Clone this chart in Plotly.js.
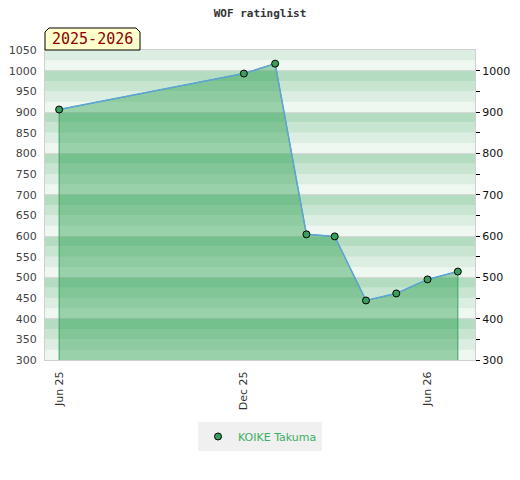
<!DOCTYPE html>
<html>
<head>
<meta charset="utf-8">
<script src="https://cdn.plot.ly/plotly-3.0.1.min.js"></script>
<style>html,body{margin:0;padding:0;background:#fff;}#chart{width:520px;height:480px;}</style>
</head>
<body>
<div id="chart"></div>
<script>
// ---- data ----
const dates = ['2025-06-01','2025-12-01','2026-01-01','2026-02-01','2026-03-01','2026-04-01','2026-05-01','2026-06-01','2026-07-01'];
const ratings = [906, 993, 1017, 604, 599, 444, 461, 495, 514];
const playerName = 'KOIKE Takuma';
const seasonLabel = '2025-2026';
const chartTitle = 'WOF ratinglist';
const xTickVals = ['2025-06-01','2025-12-01','2026-06-01'];
const xTickText = ['Jun 25','Dec 25','Jun 26'];
const yRange = [300, 1050];
const xRange = ['2025-05-18','2026-07-18'];

// ---- background stripes (4 bands per 100 points) ----
const bandColors = ['#eff7f1', '#dcede2', '#c8e5d1', '#b3dcc0'];
const shapes = [];
for (let v = yRange[0]; v < yRange[1]; v += 25) {
  const idx = ((v % 100) / 25);
  shapes.push({type:'rect', xref:'paper', yref:'y', x0:0, x1:1, y0:v, y1:Math.min(v+25, yRange[1]),
    fillcolor: bandColors[idx], line:{width:0}, layer:'below'});
}
// season badge with cut top corners
shapes.push({type:'path', xref:'paper', yref:'paper',
  path:'M 0,1 L 0,1.0581 L 0.0093,1.071 L 0.2116,1.071 L 0.2209,1.0581 L 0.2209,1 Z',
  fillcolor:'#ffffcc', line:{color:'#000', width:1}, layer:'above'});

// minor ticks on the right axis at the 50s inside the range
const minorVals = [];
for (let v = yRange[0] + 50; v < yRange[1]; v += 100) minorVals.push(v);

// fill polygon from axis bottom
const fillX = [dates[0]].concat(dates, [dates[dates.length-1]]);
const fillY = [yRange[0]].concat(ratings, [yRange[0]]);

const traces = [
  {x: fillX, y: fillY, mode:'lines', fill:'toself', fillcolor:'rgba(24,152,66,0.4)',
   line:{color:'#3aa55e', width:1}, showlegend:false, hoverinfo:'skip'},
  {x: dates, y: ratings, mode:'lines', line:{color:'#5ea3da', width:1.5}, showlegend:false, hoverinfo:'skip'},
  {x: dates, y: ratings, mode:'markers', name: playerName,
   marker:{color:'#3a9e5c', size:7, line:{color:'#000', width:1}}},
  {x: dates, y: ratings, yaxis:'y2', mode:'none', showlegend:false, hoverinfo:'skip'}
];

const layout = {
  width:520, height:480,
  margin:{l:45, r:45, t:50, b:120},
  paper_bgcolor:'#fff', plot_bgcolor:'#eff7f1',
  font:{family:'DejaVu Sans', size:11, color:'#444'},
  title:{text: chartTitle, x:0.5, xanchor:'center', xref:'paper', yref:'container', y:1-13/480, yanchor:'middle',
         font:{family:'DejaVu Sans Mono', size:11, color:'#333', weight:'bold'}},
  xaxis:{type:'date', range:xRange, tickvals:xTickVals, ticktext:xTickText, tickangle:-90,
         ticks:'outside', ticklen:6, tickcolor:'rgba(0,0,0,0)', showgrid:false, zeroline:false,
         showline:true, linecolor:'#d0d0d0', mirror:true, tickfont:{size:11, color:'#333'}, fixedrange:true},
  yaxis:{range:yRange, dtick:50, tick0:0, showgrid:false, zeroline:false,
         ticks:'outside', ticklen:5, tickcolor:'rgba(0,0,0,0)',
         showline:true, linecolor:'#d0d0d0', mirror:true, tickfont:{size:11, color:'#444'}, fixedrange:true},
  yaxis2:{range:yRange, overlaying:'y', side:'right', dtick:100, tick0:0, showgrid:true, gridcolor:'#d8d8d8', gridwidth:1,
          zeroline:false, ticks:'outside', ticklen:4, tickcolor:'#000', tickwidth:1,
          minor:{tickmode:'array', tickvals:minorVals, ticks:'outside', ticklen:4, tickcolor:'#000', showgrid:false},
          tickfont:{size:11, color:'#111'}, showline:false, fixedrange:true},
  legend:{orientation:'h', x:0.5, xanchor:'center', y:-0.2, yanchor:'top',
          bgcolor:'#f0f0f0', font:{size:11, color:'#3cae62'}},
  shapes: shapes,
  annotations:[{text: seasonLabel, xref:'paper', yref:'paper', x:0.1105, y:1.0355, xanchor:'center', yanchor:'middle',
    showarrow:false, font:{family:'DejaVu Sans Mono', size:15, color:'#8b0000'}}],
  showlegend:true
};

Plotly.newPlot('chart', traces, layout, {displayModeBar:false, staticPlot:true});
</script>
</body>
</html>
